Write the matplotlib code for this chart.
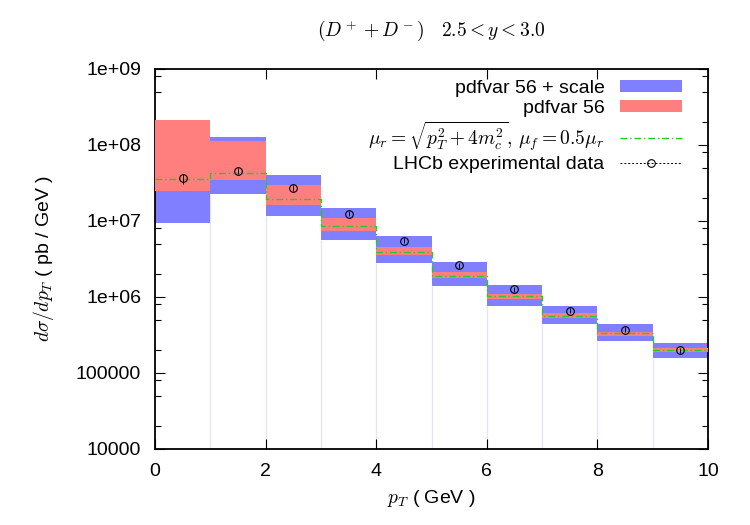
import numpy as np
import matplotlib
matplotlib.use("Agg")
import matplotlib.pyplot as plt
from matplotlib.lines import Line2D
from matplotlib.ticker import FixedLocator, NullFormatter

plt.rcParams["font.family"] = ["Liberation Sans", "DejaVu Sans"]
plt.rcParams["mathtext.fontset"] = "cm"

# bin edges in pT (GeV)
edges = np.arange(0, 11, 1)

# pdfvar 56 + scale (blue band)
blue_lo = [9.4e6, 2.24e7, 1.17e7, 5.6e6, 2.76e6, 1.4e6, 7.7e5, 4.4e5, 2.6e5, 1.58e5]
blue_hi = [2.1e8, 1.26e8, 4.0e7, 1.5e7, 6.4e6, 2.9e6, 1.44e6, 7.6e5, 4.4e5, 2.5e5]
# pdfvar 56 (red band)
red_lo = [2.5e7, 3.5e7, 1.63e7, 7.4e6, 3.55e6, 1.78e6, 9.4e5, 5.35e5, 3.1e5, 1.9e5]
red_hi = [2.1e8, 1.12e8, 2.96e7, 1.08e7, 4.5e6, 2.14e6, 1.1e6, 6.1e5, 3.5e5, 2.14e5]
# central scale choice
central = [3.6e7, 4.3e7, 1.94e7, 8.6e6, 3.9e6, 1.9e6, 1.02e6, 5.7e5, 3.4e5, 2.0e5]
# LHCb data
data_x = [0.5, 1.5, 2.5, 3.5, 4.5, 5.5, 6.5, 7.5, 8.5, 9.5]
data_y = [3.7e7, 4.6e7, 2.75e7, 1.25e7, 5.5e6, 2.6e6, 1.26e6, 6.6e5, 3.7e5, 2.0e5]
data_err_lo = [6.0e6, 4.0e6, 2.4e6, 1.0e6, 4.4e5, 2.1e5, 1.0e5, 5.2e4, 2.9e4, 1.6e4]
data_err_hi = [4.0e6, 4.0e6, 2.4e6, 1.0e6, 4.4e5, 2.1e5, 1.0e5, 5.2e4, 2.9e4, 1.6e4]

y_ticks = [1e4, 1e5, 1e6, 1e7, 1e8, 1e9]
y_ticklabels = ["10000", "100000", "1e+06", "1e+07", "1e+08", "1e+09"]
x_ticks = [0, 2, 4, 6, 8, 10]

blue = "#7f7fff"
red = "#ff7f7f"
green = "#22cc22"

fig = plt.figure(figsize=(7.5, 5.25), dpi=100)
ax = fig.add_axes([0.2067, 0.1448, 0.7373, 0.7238])

widths = np.diff(edges)
lefts = edges[:-1]
b_lo = np.array(blue_lo)
r_lo = np.array(red_lo)

# faint box edges down to the axis
ax.vlines(edges[1:-1], 1e4, b_lo[1:], color="#e4e4f6", lw=0.9, zorder=1)

h_blue = ax.bar(lefts, np.array(blue_hi) - b_lo, bottom=b_lo, width=widths,
                align="edge", color=blue, lw=0, zorder=2)
h_red = ax.bar(lefts, np.array(red_hi) - r_lo, bottom=r_lo, width=widths,
               align="edge", color=red, lw=0, zorder=3)
h_green, = ax.step(edges, list(central) + [central[-1]], where="post",
                   color=green, lw=1.0, ls=(0, (5, 2, 1, 2)), zorder=4)
ax.errorbar(data_x, data_y, yerr=[data_err_lo, data_err_hi], fmt="o", ms=5.5,
            mfc="none", mec="black", mew=0.8, ecolor="black", elinewidth=0.7,
            capsize=0, zorder=5)
h_data = Line2D([], [], color="black", ls=(0, (2, 2)), lw=0.7, marker="o",
                ms=5.5, mfc="none", mec="black", mew=0.8)

ax.set_yscale("log")
ax.set_xlim(0, 10)
ax.set_ylim(1e4, 1e9)
ax.yaxis.set_major_locator(FixedLocator(y_ticks))
ax.set_yticklabels(y_ticklabels)
ax.yaxis.set_minor_locator(matplotlib.ticker.LogLocator(subs=[2, 5, 8]))
ax.yaxis.set_minor_formatter(NullFormatter())
ax.set_xticks(x_ticks)

ax.tick_params(which="both", direction="in", top=True, right=True,
               labelsize=14, width=0.8)
ax.tick_params(which="major", length=7, pad=10)
ax.tick_params(which="minor", length=4)
for s in ax.spines.values():
    s.set_linewidth(1.3)

ax.set_xlabel(r"$p_T$ ( GeV )", fontsize=14, labelpad=6)
ax.set_ylabel(r"$d\sigma/dp_T$ ( pb / GeV )", fontsize=14, labelpad=14)
ax.set_title(r"$(D^+ + D^-)\quad 2.5 < y < 3.0$", fontsize=14, pad=24)

ax.legend([h_blue, h_red, h_green, h_data],
          ["pdfvar 56 + scale", "pdfvar 56",
           r"$\mu_r=\sqrt{p_T^2+4m_c^2},\,\mu_f=0.5\mu_r$",
           "LHCb experimental data"],
          loc="upper right", bbox_to_anchor=(0.978, 1.008), frameon=False,
          markerfirst=False, fontsize=14, handlelength=3.2, handleheight=0.6,
          labelspacing=0.15, borderaxespad=0.3, handletextpad=0.8)

plt.savefig("out.png", dpi=100)
